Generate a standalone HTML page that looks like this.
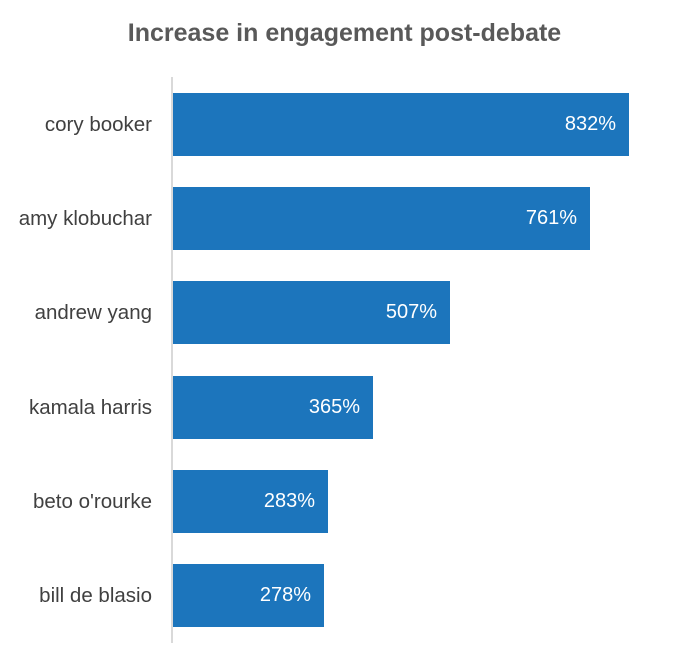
<!DOCTYPE html>
<html><head><meta charset="utf-8"><style>
body{margin:0;background:#fff;width:689px;height:666px;overflow:hidden;position:relative;font-family:"Liberation Sans",sans-serif}
.t{position:absolute;left:0;width:689px;top:19px;text-align:center;font-size:25px;font-weight:bold;color:#595959}
.ax{position:absolute;left:171px;top:77px;width:2px;height:566px;background:#d9d9d9}
.b{position:absolute;left:173px;height:63px;background:#1c75bc}
.v{position:absolute;right:13px;top:0;line-height:63px;color:#fff;font-size:20px}
.l{position:absolute;right:537px;line-height:63px;color:#404040;font-size:20.5px;white-space:nowrap}
</style></head><body>
<div class="t">Increase in engagement post-debate</div>
<div class="ax"></div>
<div class="l" style="top:93px">cory booker</div><div class="b" style="top:93px;width:456px"><span class="v">832%</span></div>
<div class="l" style="top:187px">amy klobuchar</div><div class="b" style="top:187px;width:417px"><span class="v">761%</span></div>
<div class="l" style="top:281px">andrew yang</div><div class="b" style="top:281px;width:277px"><span class="v">507%</span></div>
<div class="l" style="top:376px">kamala harris</div><div class="b" style="top:376px;width:200px"><span class="v">365%</span></div>
<div class="l" style="top:470px">beto o'rourke</div><div class="b" style="top:470px;width:155px"><span class="v">283%</span></div>
<div class="l" style="top:564px">bill de blasio</div><div class="b" style="top:564px;width:151px"><span class="v">278%</span></div>
</body></html>
